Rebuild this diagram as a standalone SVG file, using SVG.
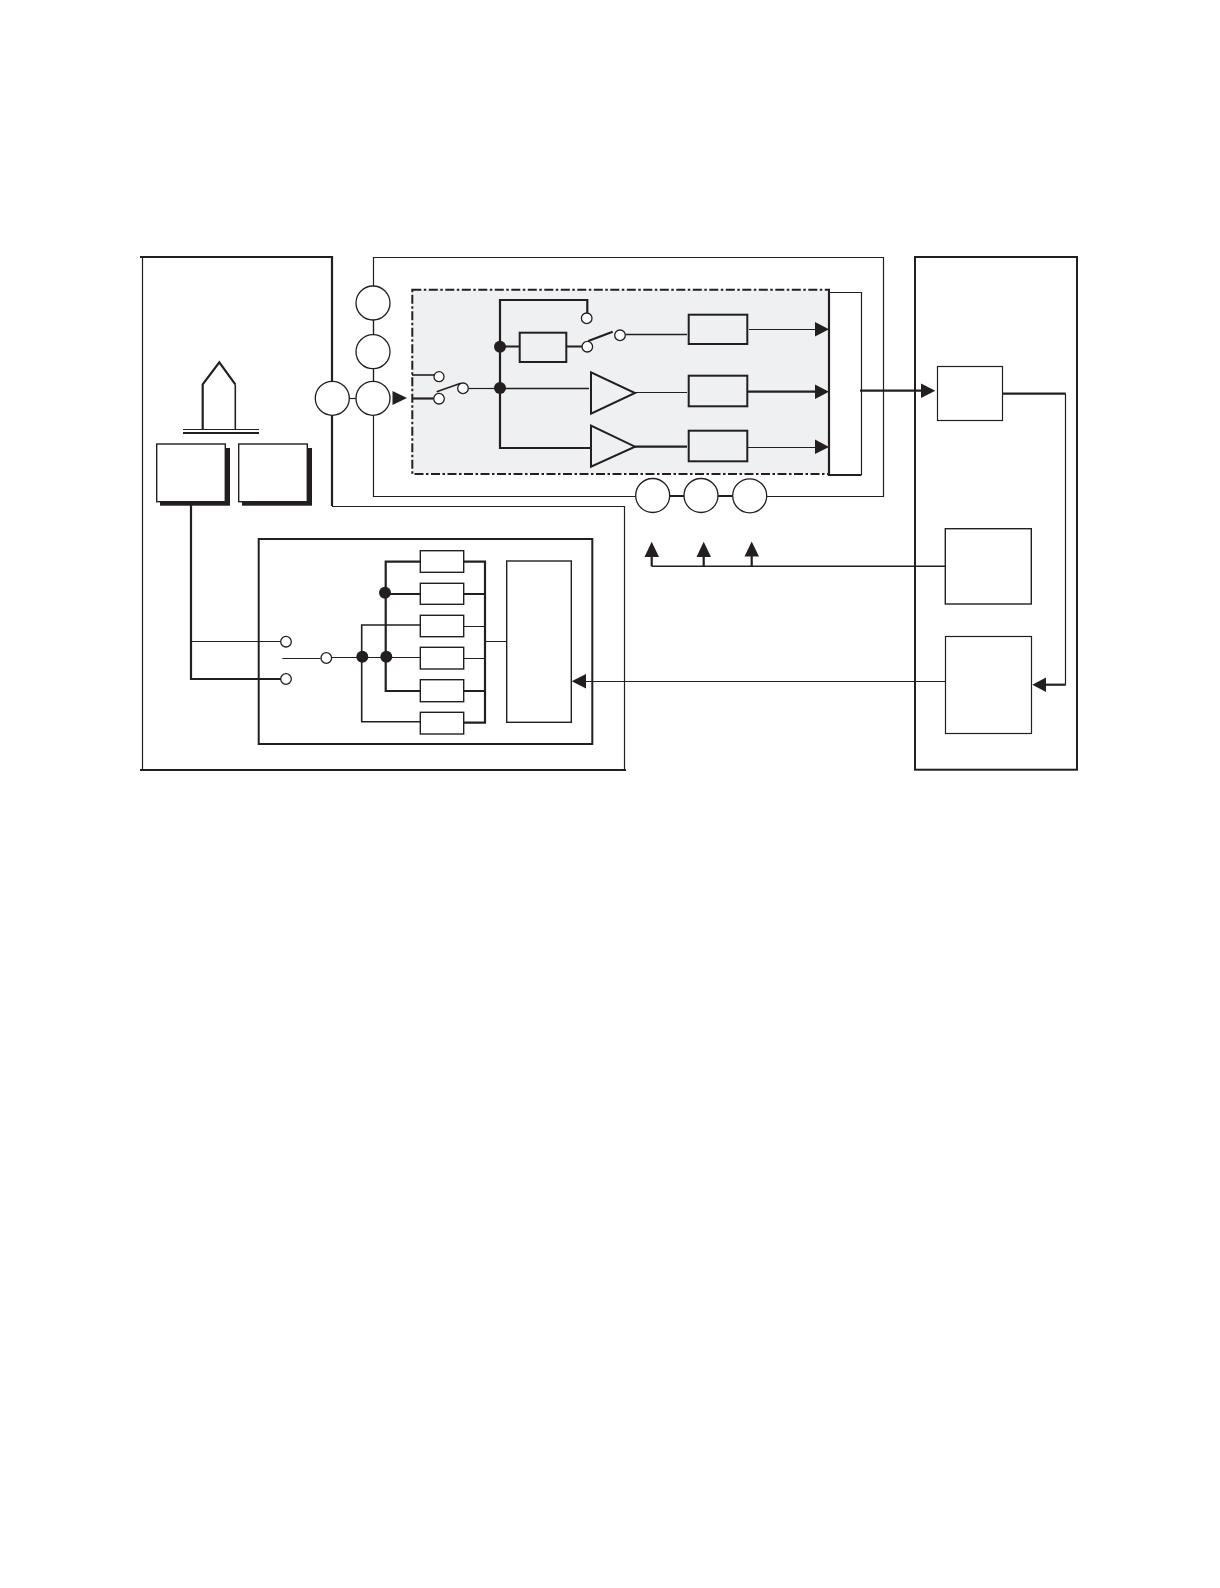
<svg xmlns="http://www.w3.org/2000/svg" width="1220" height="1588" viewBox="0 0 1220 1588">
<style>
.t{fill:none;stroke:#231f20;stroke-width:1.2}
.m{fill:none;stroke:#231f20;stroke-width:1.6}
.k{fill:none;stroke:#231f20;stroke-width:2.2}
.wt{fill:#fff;stroke:#231f20;stroke-width:1.2}
.wm{fill:#fff;stroke:#231f20;stroke-width:1.4}
.gk{fill:#eff0f1;stroke:#231f20;stroke-width:2}
.c{fill:#fff;stroke:#231f20;stroke-width:1.3}
.d{fill:#231f20;stroke:none}
</style>
<rect width="1220" height="1588" fill="#fff"/>
<g id="unit-left">
<path class="k" d="M140 257H332V381"/>
<path class="k" d="M332 415V506"/>
<path class="t" d="M332 506.5H624.5V770M142.5 257V771"/>
<path class="k" d="M140 770H626"/>
</g>
<g id="unit-right"><rect x="915" y="257" width="162" height="512.7" fill="none" stroke="#231f20" stroke-width="2"/></g>
<g id="panel"><path class="t" d="M373.5 257.5H883.5V496.5H373.5Z"/></g>
<g id="shaded"><rect x="412.3" y="289.7" width="416.7" height="184.3" fill="#eff0f1" stroke="#231f20" stroke-width="2" stroke-dasharray="9 2.5 2.5 2.5"/></g>
<g id="mux">
<rect x="829" y="292.3" width="32.3" height="182.7" fill="#fff" stroke="none"/>
<path class="t" d="M829 292.5H861.5V475"/>
<path class="k" d="M829 292.3V475H861.3"/>
</g>
<g id="connectors">
<path class="t" d="M349 398.5H356"/>
<path class="m" d="M412 375H434"/>
<path class="k" d="M412 398.5H433.5"/>
<path class="m" d="M436.7 391.7L460.7 383.3"/>
<path class="t" d="M468.5 388.5H500"/>
<path class="k" d="M587.3 313V300H500V448H590"/>
<path class="k" d="M500 346.5H520M566 346.5H582"/>
<path class="k" d="M588.3 341L612.7 331.7"/>
<path class="m" d="M625.5 334.5H687"/>
<path class="m" d="M500 388.5H589"/>
<path class="t" d="M635 392.5H687"/>
<path class="k" d="M635 446.7H687"/>
<path class="t" d="M749 329.5H815"/>
<path class="k" d="M748 391.7H815"/>
<path class="t" d="M748 447.5H815"/>
<path class="k" d="M860 390.7H921"/>
<path class="k" d="M1002.3 393.7H1065.7"/>
<path class="t" d="M1065.5 393.7V684.7"/>
<path class="k" d="M1065.7 684.7H1046"/>
<path class="t" d="M945.3 681.5H586"/>
<path class="m" d="M945.3 566.3H651.7"/>
<path class="k" d="M651.7 566.3V556M703.7 566.3V556M751.7 566.3V556"/>
<path class="k" d="M191 505V679H281"/>
<path class="t" d="M191 641.5H281"/>
<path class="t" d="M282.3 658.5H320.5M332 657.5H420.3"/>
<path class="m" d="M420.3 625H361.7V721.7H420.3"/>
<path class="k" d="M420.3 561.7H385.7V691H420.3M385.7 594H420.3"/>
<path class="k" d="M463.7 561.7H485V722.7H463.7M463.7 594H485M463.7 691H485"/>
<path class="t" d="M463.7 626.5H485M463.7 658.5H485M485 641.5H506.7"/>
<path class="d" d="M392.5 391L407 398L392.5 405Z"/>
<path class="d" d="M815 322L829 329.3L815 336.5ZM815 384.5L829 391.7L815 399ZM815 439.5L829 447L815 454Z"/>
<path class="d" d="M921 383.5L935.3 390.7L921 398Z"/>
<path class="d" d="M1032.3 684.7L1046 677.5V692Z"/>
<path class="d" d="M571.7 681.3L586 674V688.5Z"/>
<path class="d" d="M651.7 541.7L659 557H644.5ZM703.7 541.7L711 557H696.5ZM751.7 541.5L759 556.5H744.5Z"/>
<circle class="d" cx="500" cy="346.7" r="6"/><circle class="d" cx="500" cy="388" r="6"/>
<circle class="d" cx="362.3" cy="656.7" r="6"/><circle class="d" cx="386.3" cy="656.7" r="6"/><circle class="d" cx="385" cy="592.7" r="6"/>
<path class="t" d="M373.5 320V335M373.5 369V381M669.7 495.5H684M718 495.5H733"/>
</g>
<g id="c1"><circle class="c" cx="373" cy="303" r="17"/></g>
<g id="c2"><circle class="c" cx="373" cy="351.7" r="17"/></g>
<g id="c3"><circle class="c" cx="373" cy="398.3" r="17"/></g>
<g id="c4"><circle class="c" cx="332.3" cy="398.3" r="17"/></g>
<g id="c5"><circle class="c" cx="652.7" cy="495.5" r="17"/></g>
<g id="c6"><circle class="c" cx="701" cy="495.5" r="17"/></g>
<g id="c7"><circle class="c" cx="749.7" cy="495.8" r="17"/></g>
<g id="switch1">
<circle class="c" cx="439" cy="376.7" r="5"/><circle class="c" cx="439" cy="398.7" r="5.3"/><circle class="c" cx="463" cy="388.3" r="5.3"/>
</g>
<g id="switch2">
<circle class="c" cx="586.7" cy="318.3" r="5.3"/><circle class="c" cx="587.3" cy="346.7" r="5.3"/><circle class="c" cx="620" cy="335.3" r="5.3"/>
</g>
<g id="delay"><rect class="gk" x="519.7" y="332.7" width="46.6" height="29.3"/></g>
<g id="amp1"><path class="gk" d="M591 372.3V413.7L635 393Z"/></g>
<g id="amp2"><path class="gk" d="M591 425.7V466.7L635 446.7Z"/></g>
<g id="adc1"><rect class="gk" x="688.7" y="314.7" width="58.6" height="29.3"/></g>
<g id="adc2"><rect class="gk" x="688.7" y="375.7" width="58.6" height="30.6"/></g>
<g id="adc3"><rect class="gk" x="688.7" y="430.7" width="58.6" height="30.6"/></g>
<g id="probe">
<path class="k" d="M202.7 429V384.3L219.3 362.3L235.3 384.3"/>
<path class="m" d="M235.3 384.3V429"/>
<path class="t" d="M183 429.5H259"/>
<path class="k" d="M183 433H259"/>
</g>
<g id="tx">
<rect class="d" x="160" y="448" width="70" height="57.7"/>
<rect class="wm" x="156.7" y="444" width="68.6" height="57.7"/>
</g>
<g id="rx">
<rect class="d" x="242" y="448" width="70" height="57.7"/>
<rect class="wm" x="238.7" y="444" width="68.6" height="57.7"/>
</g>
<g id="front-end">
<rect x="258.7" y="539" width="333.6" height="205" fill="none" stroke="#231f20" stroke-width="2"/>
</g>
<g id="sw3">
<circle class="c" cx="286" cy="641.7" r="5.3"/><circle class="c" cx="286" cy="679" r="5.3"/><circle class="c" cx="326.3" cy="658" r="5.3"/>
</g>
<g id="r1"><rect class="wm" x="420.3" y="550.7" width="43.4" height="21.6"/></g>
<g id="r2"><rect class="wm" x="420.3" y="583.3" width="43.4" height="21"/></g>
<g id="r3"><rect class="wm" x="420.3" y="615.3" width="43.4" height="21.4"/></g>
<g id="r4"><rect class="wm" x="420.3" y="647.3" width="43.4" height="21.7"/></g>
<g id="r5"><rect class="wm" x="420.3" y="679.7" width="43.4" height="22"/></g>
<g id="r6"><rect class="wm" x="420.3" y="712.3" width="43.4" height="21.7"/></g>
<g id="tall"><rect class="wm" x="506.7" y="561" width="64.6" height="161.3"/></g>
<g id="box-a"><rect class="wt" x="937.5" y="366.5" width="65" height="54"/></g>
<g id="box-b"><rect class="wm" x="945.3" y="528.7" width="86" height="75.3"/></g>
<g id="box-c"><rect class="wt" x="945.5" y="636.5" width="86" height="97"/></g>
</svg>
